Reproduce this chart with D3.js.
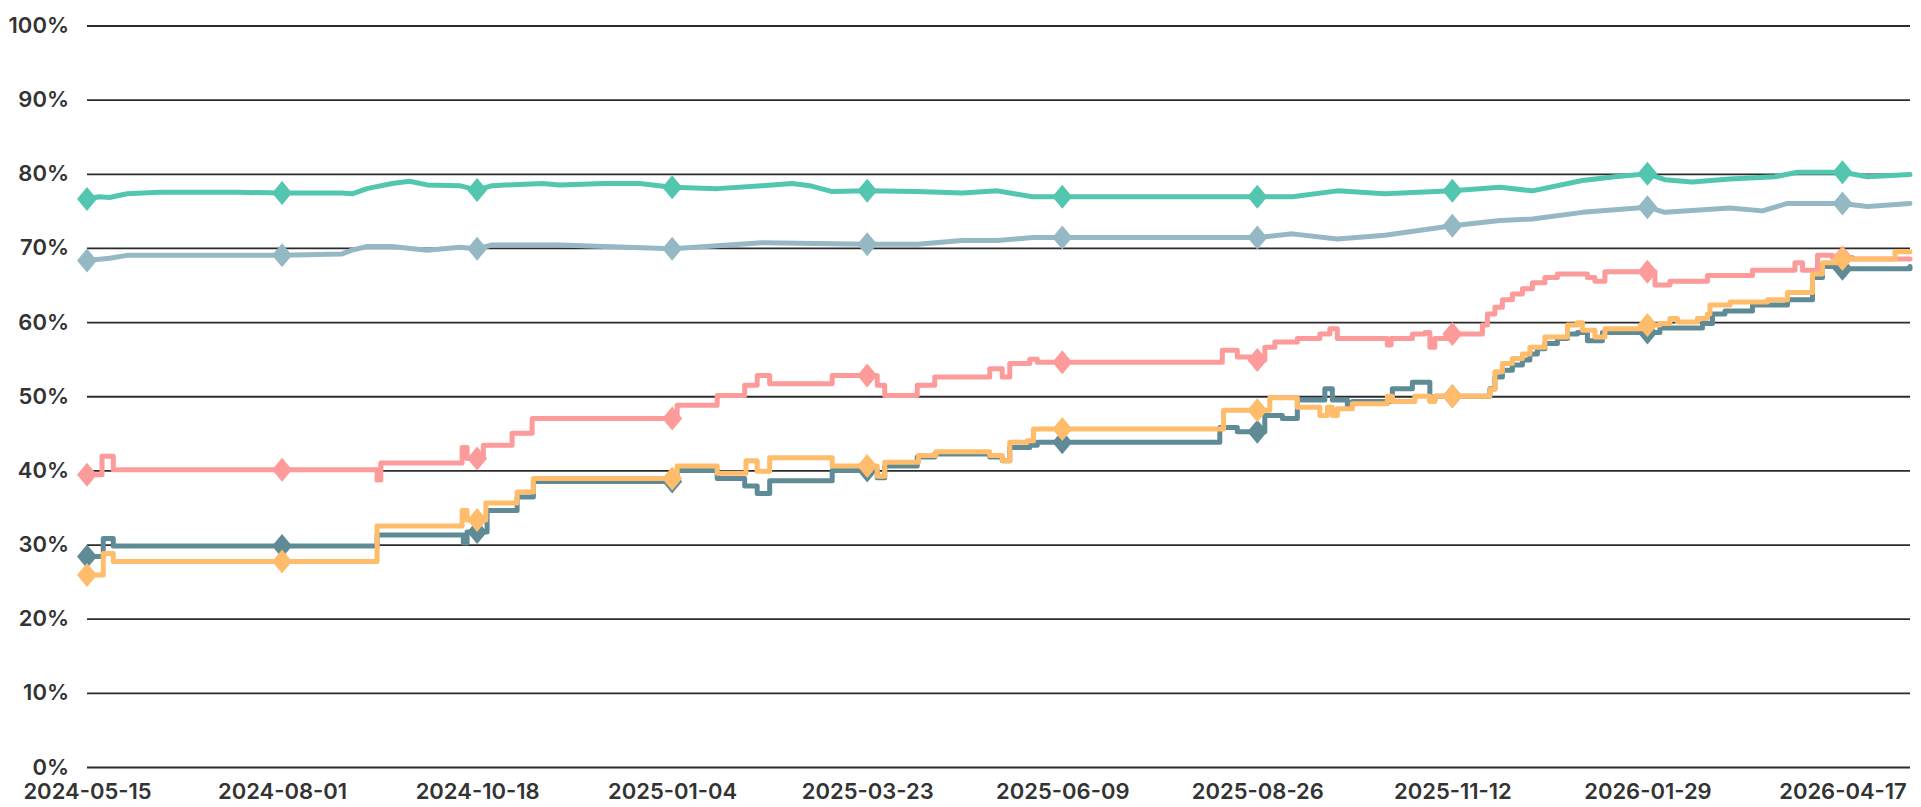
<!DOCTYPE html>
<html>
<head>
<meta charset="utf-8">
<script src="https://cdn.jsdelivr.net/npm/d3@7"></script>
<style>
  html, body { margin: 0; padding: 0; background: #fff; }
  svg { display: block; }
  text { font-family: Inter, "Open Sans", sans-serif; font-weight: 600; fill: #333; }
</style>
</head>
<body>
<div id="container"></div>
<script>
// day offsets are counted from startDate
const startDate = '2024-05-15';
const endDate = '2026-05-14';
const xTickLabels = ['2024-05-15', '2024-08-01', '2024-10-18', '2025-01-04', '2025-03-23',
  '2025-06-09', '2025-08-26', '2025-11-12', '2026-01-29', '2026-04-17'];
const yTickValues = [0, 10, 20, 30, 40, 50, 60, 70, 80, 90, 100];

// [day, percent]
const tealSeries = [[0,76.6],[5,76.9],[9,76.8],[16,77.3],[29,77.5],[60,77.5],[78,77.4],[102,77.4],
  [106,77.3],[112,78.0],[122,78.7],[129,79.0],[136,78.5],[149,78.4],[156,77.8],[162,78.4],[182,78.7],
  [189,78.5],[207,78.7],[221,78.7],[234,78.2],[252,78.0],[270,78.4],[282,78.7],[289,78.4],[298,77.6],
  [312,77.7],[332,77.6],[350,77.4],[364,77.7],[378,76.9],[390,76.9],[468,76.9],[482,76.9],[500,77.7],
  [519,77.3],[546,77.7],[565,78.2],[578,77.7],[598,79.1],[611,79.6],[624,80.0],[631,79.2],[642,78.9],
  [657,79.3],[675,79.6],[684,80.2],[702,80.2],[712,79.6],[729,79.9]];

const greySeries = [[0,68.3],[9,68.6],[16,69.0],[29,69.0],[78,69.0],[102,69.2],[106,69.7],[112,70.2],
  [122,70.2],[136,69.7],[149,70.1],[156,69.9],[162,70.4],[189,70.4],[207,70.2],[225,70.0],[234,69.9],
  [252,70.3],[270,70.7],[312,70.5],[332,70.5],[350,71.0],[364,71.0],[378,71.4],[390,71.4],[468,71.4],
  [482,71.9],[500,71.2],[519,71.7],[546,73.0],[565,73.7],[578,73.9],[598,74.8],[624,75.5],[631,74.8],
  [657,75.4],[670,75.0],[680,76.0],[702,76.0],[712,75.6],[729,76.0]];

const pinkSeries = [[0,39.4],[6,41.9],[10.5,40.1],[116,38.7],[117.5,41.0],[150,43.1],[152,41.6],
  [158.5,43.4],[170,45.0],[178,47.0],[236,48.8],[252,50.1],[263,51.5],[268,52.8],[273,51.7],[298,52.8],
  [316,51.5],[319,50.1],[332,51.5],[339,52.6],[361,53.7],[366,52.6],[369,54.4],[377,55.0],[380,54.6],
  [454,56.2],[460,55.3],[466,54.9],[471,56.6],[475,57.3],[484,57.8],[493,58.4],[497,59.1],[500,57.8],
  [520,56.9],[521.5,57.8],[530,58.4],[535,58.6],[537,56.6],[539,57.8],[544,58.4],[558,59.6],[560,61.1],
  [563,62.0],[566,63.0],[570,63.8],[574,64.5],[578,65.3],[583,66.0],[588,66.5],[600,66.0],[603,65.5],
  [607,66.8],[627,65.0],[633,65.5],[648,66.3],[666,67.0],[683,68.0],[686,67.0],[692,69.0],[698,68.7],
  [706,68.5],[729,68.5]];

const slateSeries = [[0,28.4],[6.5,30.8],[10.5,29.8],[116,31.3],[150.5,30.2],[152,31.7],[160,34.6],
  [172,36.4],[178.5,38.5],[236,40.0],[252,38.9],[263,37.9],[268,36.9],[273,38.6],[298,40.0],[316,39.0],
  [319,40.6],[332,41.8],[339,42.2],[361,41.8],[366,41.3],[369,43.1],[377,43.4],[380,43.8],[453,45.8],
  [460,45.2],[471,47.4],[478,47.0],[484,49.5],[495,51.0],[498,49.5],[504,48.8],[506,49.3],[522,51.0],
  [530,51.9],[537,49.5],[539,50.0],[561,51.0],[563,52.6],[566,53.5],[570,54.2],[574,54.9],[577,55.7],
  [580,56.4],[583,57.1],[588,57.8],[592,58.4],[596,58.6],[600,57.5],[606,58.6],[629,59.2],[646,59.8],
  [650,61.1],[655,61.5],[666,62.3],[680,63.0],[690,66.0],[694,67.5],[700,67.2],[729,67.5]];

const amberSeries = [[0,25.9],[6.5,28.8],[10.5,27.7],[116,32.5],[150,34.6],[152,33.3],[159.5,35.6],
  [172,37.1],[178.5,38.9],[236,40.6],[252,39.6],[263.5,41.3],[268,39.9],[273,41.7],[298,40.6],[316,39.2],
  [319,41.1],[332.5,42.0],[339.5,42.5],[361,42.0],[366,41.3],[369,43.8],[376,44.0],[378.5,45.6],
  [454.5,48.1],[473,49.8],[484,48.5],[493,47.4],[496,48.5],[498,47.4],[500,48.3],[506,49.0],[520,50.0],
  [522,49.3],[531,50.0],[537,49.3],[539,50.0],[561,50.9],[563,53.3],[566,54.4],[570,55.1],[574,55.7],
  [577,56.6],[583,58.0],[592,59.6],[596,59.9],[598,58.9],[603,58.0],[607,59.1],[623,59.6],[629,59.8],
  [633,60.5],[636,60.0],[644,60.5],[648,61.1],[649,62.3],[657,62.7],[672,63.0],[680,64.0],[690,66.5],
  [694,68.0],[700,68.5],[723,69.5],[729,69.5]];

const seriesList = [
  {name: 'teal', data: tealSeries, color: '#53c6b0', step: false},
  {name: 'grey', data: greySeries, color: '#95b9c4', step: false},
  {name: 'pink', data: pinkSeries, color: '#fd9b9b', step: true},
  {name: 'slate', data: slateSeries, color: '#5f8b96', step: true},
  {name: 'amber', data: amberSeries, color: '#ffbd6b', step: true},
];

const width = 1921;
const height = 807;
const margin = {top: 25.5, right: 11, bottom: 40, left: 87};

const parse = d3.utcParse('%Y-%m-%d');
const t0 = parse(startDate);
const dayToDate = d => new Date(t0.getTime() + d * 864e5);

const svg = d3.select('#container')
  .append('svg')
  .attr('width', width)
  .attr('height', height);

const x = d3.scaleUtc()
  .domain([t0, parse(endDate)])
  .range([margin.left, width - margin.right]);
const y = d3.scaleLinear()
  .domain([0, 100])
  .range([height - margin.bottom, margin.top]);

// y axis + gridlines
const yAxis = svg.append('g')
  .attr('transform', `translate(${margin.left},0)`)
  .call(d3.axisLeft(y)
    .tickValues(yTickValues)
    .tickFormat(d => d + '%')
    .tickSize(-(width - margin.left - margin.right))
    .tickPadding(18));
yAxis.select('.domain').remove();
yAxis.selectAll('line').attr('stroke', '#2b2b2b').attr('stroke-width', 1.8);
yAxis.selectAll('text').attr('font-size', 22).attr('fill', '#333')
  .attr('font-family', 'Inter, sans-serif');

// x axis labels
const xAxis = svg.append('g')
  .attr('transform', `translate(0,${height - margin.bottom})`)
  .call(d3.axisBottom(x)
    .tickValues(xTickLabels.map(parse))
    .tickFormat(d3.utcFormat('%Y-%m-%d'))
    .tickSize(0)
    .tickPadding(16));
xAxis.select('.domain').remove();
xAxis.selectAll('text').attr('font-size', 22).attr('fill', '#333')
  .attr('font-family', 'Inter, sans-serif');

// value of a series at a given day, for the markers
function valueAt(s, day) {
  const days = s.data.map(p => p[0]);
  const i = d3.bisectRight(days, day) - 1;
  if (s.step || i >= s.data.length - 1) return s.data[Math.max(i, 0)][1];
  const [d0, v0] = s.data[i];
  const [d1, v1] = s.data[i + 1];
  return v0 + (v1 - v0) * (day - d0) / (d1 - d0);
}

const markerDays = xTickLabels.map(s => (parse(s) - t0) / 864e5);

const diamond = (cx, cy) => `M${cx},${cy - 12}L${cx + 10},${cy}L${cx},${cy + 12}L${cx - 10},${cy}Z`;

seriesList.forEach(s => {
  const line = d3.line()
    .x(d => x(dayToDate(d[0])))
    .y(d => y(d[1]))
    .curve(s.step ? d3.curveStepAfter : d3.curveLinear);

  svg.append('path')
    .datum(s.data)
    .attr('fill', 'none')
    .attr('stroke', s.color)
    .attr('stroke-width', 5)
    .attr('stroke-linejoin', 'round')
    .attr('stroke-linecap', 'round')
    .attr('d', line);

  svg.append('g')
    .selectAll('path')
    .data(markerDays)
    .enter()
    .append('path')
    .attr('fill', s.color)
    .attr('d', d => diamond(x(dayToDate(d)), y(valueAt(s, d))));
});
</script>
</body>
</html>
